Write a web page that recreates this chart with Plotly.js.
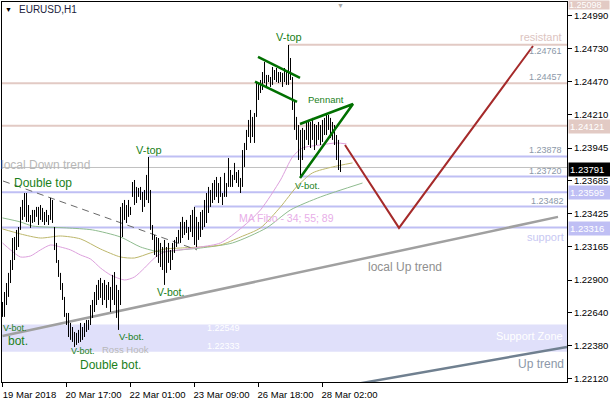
<!DOCTYPE html>
<html><head><meta charset="utf-8">
<script src="https://cdn.plot.ly/plotly-3.0.1.min.js"></script>
<style>html,body{margin:0;padding:0;background:#fff;}#chart{width:610px;height:400px;}</style>
</head><body><div id="chart"></div>
<script>
// ---- data (EURUSD H1, bar index -> high/low) ----
const highs = [1.22727,1.22806,1.22877,1.22957,1.23059,1.23233,1.23241,1.23297,1.23320,1.23479,
1.23534,1.23589,1.23589,1.23494,1.23415,1.23455,1.23455,1.23479,1.23479,1.23494,
1.23471,1.23439,1.23455,1.23415,1.23550,1.23534,1.23320,1.23194,1.23059,1.22957,
1.22877,1.22767,1.22640,1.22640,1.22561,1.22529,1.22490,1.22482,1.22506,1.22561,
1.22529,1.22561,1.22585,1.22585,1.22703,1.22743,1.22806,1.22862,1.22901,1.22917,
1.22877,1.22901,1.22862,1.22885,1.22846,1.22941,1.22964,1.22862,1.22822,1.23479,
1.23510,1.23534,1.23494,1.23534,1.23479,1.23676,1.23692,1.23637,1.23629,1.23637,
1.23597,1.23613,1.23732,1.23874,1.23613,1.23336,1.23257,1.23241,1.23233,1.23194,
1.23162,1.23218,1.23162,1.23194,1.23138,1.23194,1.23218,1.23241,1.23297,1.23360,
1.23400,1.23360,1.23376,1.23320,1.23415,1.23455,1.23479,1.23400,1.23360,1.23439,
1.23455,1.23534,1.23589,1.23637,1.23613,1.23668,1.23692,1.23716,1.23668,1.23716,
1.23589,1.23748,1.23668,1.23866,1.23771,1.23732,1.23827,1.23755,1.23771,1.23708,
1.23929,1.23985,1.24088,1.24167,1.24246,1.24191,1.24222,1.24467,1.24459,1.24483,
1.24546,1.24626,1.24523,1.24523,1.24507,1.24586,1.24562,1.24578,1.24546,1.24546,
1.24539,1.24578,1.24562,1.24760,1.24657,1.24507,1.24325,1.24191,1.24127,1.24088,
1.24104,1.24088,1.24151,1.24167,1.24151,1.24183,1.24135,1.24127,1.24151,1.24127,
1.24167,1.24183,1.24206,1.24206,1.24183,1.24151,1.24127,1.24048,1.24009,1.23850];
const lows = [1.22609,1.22609,1.22703,1.22767,1.22877,1.22980,1.23059,1.23138,1.23162,1.23297,
1.23376,1.23400,1.23360,1.23360,1.23313,1.23352,1.23360,1.23400,1.23336,1.23376,
1.23360,1.23336,1.23360,1.23336,1.23376,1.23352,1.23138,1.23036,1.22925,1.22822,
1.22743,1.22609,1.22545,1.22450,1.22427,1.22411,1.22371,1.22387,1.22403,1.22411,
1.22427,1.22450,1.22490,1.22506,1.22545,1.22601,1.22648,1.22703,1.22743,1.22759,
1.22703,1.22743,1.22680,1.22743,1.22648,1.22743,1.22703,1.22601,1.22506,1.22703,
1.23241,1.23376,1.23352,1.23400,1.23415,1.23558,1.23494,1.23510,1.23558,1.23534,
1.23439,1.23479,1.23534,1.23510,1.23297,1.23218,1.23099,1.23083,1.23036,1.23004,
1.22980,1.22862,1.22957,1.23036,1.22980,1.23059,1.23115,1.23162,1.23194,1.23194,
1.23233,1.23257,1.23273,1.23218,1.23281,1.23241,1.23178,1.23162,1.23218,1.23241,
1.23297,1.23320,1.23352,1.23431,1.23479,1.23510,1.23534,1.23558,1.23510,1.23558,
1.23494,1.23558,1.23558,1.23637,1.23637,1.23637,1.23692,1.23668,1.23637,1.23589,
1.23637,1.23795,1.23929,1.24032,1.23985,1.24032,1.23985,1.24191,1.24325,1.24380,
1.24404,1.24459,1.24428,1.24467,1.24428,1.24444,1.24483,1.24467,1.24459,1.24467,
1.24428,1.24467,1.24444,1.24444,1.24483,1.24246,1.24088,1.24009,1.23850,1.23716,
1.23850,1.23929,1.24009,1.23969,1.23945,1.24009,1.23929,1.23969,1.24009,1.23969,
1.23993,1.24048,1.24048,1.24088,1.24024,1.24009,1.23969,1.23850,1.23771,1.23755];

// moving averages (MA Fibo 34 / 55 / 89), read at sample bars
const ma34Bars = [0,4,9,14,19,24,29,34,39,44,49,54,61,66,71,76,81,89,99,109,120,129,139,145,150,159,167,172];
const ma34 = [1.23194,1.23139,1.23083,1.23091,1.23139,1.23178,1.23162,1.23139,1.23099,1.23067,1.22996,1.22941,1.22901,1.22925,1.22996,1.23075,1.23123,1.23139,1.23162,1.23194,1.23320,1.23455,1.23692,1.23874,1.23945,1.23969,1.23985,1.23977];
const ma55Bars = [0,9,19,29,39,49,59,66,74,81,89,99,109,119,129,139,147,155,165,175];
const ma55 = [1.23305,1.23265,1.23233,1.23249,1.23226,1.23146,1.23083,1.23075,1.23115,1.23146,1.23154,1.23162,1.23178,1.23241,1.23313,1.23479,1.23637,1.23748,1.23795,1.23827];
const ma89Bars = [0,9,15,32,45,59,69,79,89,99,115,132,144,159,180];
const ma89 = [1.23392,1.23360,1.23328,1.23313,1.23297,1.23241,1.23162,1.23123,1.23139,1.23154,1.23194,1.23313,1.23455,1.23558,1.23668];

// axis ticks
const xTickBars = [0,32,64,96,128,160];
const xTickLabels = ["19 Mar 2018","20 Mar 17:00","22 Mar 01:00","23 Mar 09:00","26 Mar 18:00","28 Mar 02:00"];
const yTicks = [1.22120,1.22380,1.22640,1.22900,1.23165,1.23425,1.23685,1.23945,1.24210,1.24470,1.24730,1.24990];

// horizontal levels
const roseLevels = [1.24761,1.24457,1.24121];
const roseFrom = [143,null,null];
const blueLevels = [1.23878,1.23720,1.23595,1.23482,1.23316];
const blueFrom = [73,149,null,96,null];
const bidPrice = 1.23791;
const zoneTop = 1.22549, zoneBottom = 1.22333;

// drawn trend / pattern lines (bar index, price)
const upLocalBars = [0,277.75], upLocalPrices = [1.22458,1.23400];
const upMainBars = [170,282.25], upMainPrices = [1.22059,1.22371];
const downLocalBars = [0.25,97.25], downLocalPrices = [1.23684,1.23139];
const flagUpBars = [127.75,148.75], flagUpPrices = [1.24665,1.24499];
const flagLowBars = [126.25,147.25], flagLowPrices = [1.24470,1.24309];
const pennantBars = [148.75,175.25,148.75], pennantPrices = [1.24135,1.24293,1.23708];
const projBars = [171.25,198.25,265.25], projPrices = [1.23969,1.23313,1.24752];

// ---- build ----
const XMIN=-0.25, XMAX=282.25, YMIN=1.22094, YMAX=1.25100;
const FONT="Liberation Sans, Arial, sans-serif";
const bx=[], by=[];
for(let i=0;i<highs.length;i++){bx.push(i,i,null);by.push(lows[i],highs[i],null);}

const traces=[
 {x:ma89Bars,y:ma89,mode:'lines',line:{color:'#8fbc8f',width:1,shape:'spline',smoothing:0.7}},
 {x:ma55Bars,y:ma55,mode:'lines',line:{color:'#bdb76b',width:1,shape:'spline',smoothing:0.7}},
 {x:ma34Bars,y:ma34,mode:'lines',line:{color:'#dda0dd',width:1,shape:'spline',smoothing:0.7}},
 {x:upLocalBars,y:upLocalPrices,mode:'lines',line:{color:'#a0a0a0',width:2.5}},
 {x:upMainBars,y:upMainPrices,mode:'lines',line:{color:'#708090',width:2.5}},
 {x:downLocalBars,y:downLocalPrices,mode:'lines',line:{color:'#696969',width:1,dash:'7px,5px'}},
 {x:bx,y:by,mode:'lines',line:{color:'#000',width:1},connectgaps:false},
 {x:flagUpBars,y:flagUpPrices,mode:'lines',line:{color:'#007000',width:2.5}},
 {x:flagLowBars,y:flagLowPrices,mode:'lines',line:{color:'#007000',width:2.5}},
 {x:pennantBars,y:pennantPrices,mode:'lines',line:{color:'#007000',width:2.5}},
 {x:projBars,y:projPrices,mode:'lines',line:{color:'#a52a2a',width:2}}
];

const shapes=[];
shapes.push({type:'rect',xref:'paper',yref:'y',x0:0,x1:1,y0:zoneBottom,y1:zoneTop,fillcolor:'#e0e0fa',line:{width:0},layer:'below'});
roseLevels.forEach((v,k)=>shapes.push({type:'line',xref:'x',yref:'y',x0:roseFrom[k]===null?XMIN:roseFrom[k],x1:XMAX,y0:v,y1:v,line:{color:'#e2cac4',width:2},layer:'below'}));
blueLevels.forEach((v,k)=>shapes.push({type:'line',xref:'x',yref:'y',x0:blueFrom[k]===null?XMIN:blueFrom[k],x1:XMAX,y0:v,y1:v,line:{color:'#bfbff4',width:2},layer:'below'}));
shapes.push({type:'line',xref:'paper',yref:'y',x0:0,x1:1,y0:bidPrice,y1:bidPrice,line:{color:'#c0c0c0',width:1},layer:'below'});

// text helpers (pixel positions inside the 610x400 picture)
function P(xp,yp){return {x:(xp-2)/565,y:(382-yp)/380};}
function T(text,xp,yp,size,color,anchor){const p=P(xp,yp);return {text:text,x:p.x,y:p.y,xref:'paper',yref:'paper',xanchor:anchor||'center',yanchor:'middle',showarrow:false,font:{family:FONT,size:size,color:color}};}
const G='#1a7f1a';
const ann=[
 T('\u25BC',8,10,7,'#000','center'),
 T('EURUSD,H1',17,10,10,'#1c1c3c','left'),
 T('\u25BC',340,5,7,'#a8a8a8','center'),
 T('V-top',148.5,150,11,G),
 T('V-top',288.5,37,11,G),
 T('Pennant',326,99,9.5,G),
 T('V-bot.',307,186,9.5,G),
 T('Double top',42.5,183,12,G),
 T('local Down trend',92,165,12,'#b8b8b8','right'),
 T('V-bot.',1,328,9,G,'left'),
 T('bot.',6,341,12,G,'left'),
 T('V-bot.',83,351,9,G),
 T('Double bot.',110.5,364.5,12,G),
 T('V-bot.',131,336,9.5,G),
 T('Ross Hook',125,349,9.5,'#b8b8b8'),
 T('V-bot.',170,292,10.5,G),
 T('MA Fibo - 34; 55; 89',286.5,218,10.5,'#e8aee8'),
 T('local Up trend',366,267,12,'#8f8f8f','left'),
 T('support',566,237,11,'#c8c8f2','right'),
 T('resistant',564,37,11,'#dcc4bf','right'),
 T('1.24761',564,51,9,'#8c98a8','right'),
 T('1.24457',564,77,9,'#8c98a8','right'),
 T('1.23878',564,150,9,'#8c98a8','right'),
 T('1.23720',564,171,9,'#8c98a8','right'),
 T('1.23482',566,201,9,'#8c98a8','right'),
 T('1.22549',205,328,9,'#ffffff','left'),
 T('1.22333',205,346,9,'#ffffff','left'),
 T('Support Zone',565,336,11,'#ffffff','right'),
 T('Up trend',566,364,12,'#8c98a8','right')
];
// price boxes on the axis
function B(text,yp,bg,h){const p=P(568,yp);const a={text:text,x:p.x,y:p.y,xref:'paper',yref:'paper',xanchor:'left',yanchor:'middle',showarrow:false,bgcolor:bg,borderpad:1,width:40,align:'left',font:{family:FONT,size:9.5,color:'#fff'}};if(h){a.height=h;a.borderpad=0;a.font.size=9;}return a;}
ann.push(B('1.25098',5,'#e2cac4',8));
ann.push(B('1.24121',126,'#e2cac4'));
ann.push(B('1.23791',169,'#000000'));
ann.push(B('1.23595',192,'#bfbff4'));
ann.push(B('1.23316',228,'#bfbff4'));

const layout={
 width:610,height:400,margin:{l:2,r:43,t:2,b:18,pad:0},
 paper_bgcolor:'#fff',plot_bgcolor:'#fff',showlegend:false,
 font:{family:FONT,size:9.5,color:'#000'},
 xaxis:{range:[XMIN,XMAX],tickmode:'array',tickvals:xTickBars,ticktext:xTickLabels,ticks:'outside',ticklen:4,tickcolor:'#000',
   showline:true,linecolor:'#000',linewidth:1,mirror:true,showgrid:false,zeroline:false,ticklabelshift:27,tickfont:{size:9.5,color:'#000'},fixedrange:true},
 yaxis:{range:[YMIN,YMAX],side:'right',tickmode:'array',tickvals:yTicks,ticktext:yTicks.map(v=>v.toFixed(5)),ticks:'outside',ticklen:4,tickcolor:'#000',
   showline:true,linecolor:'#000',linewidth:1,mirror:true,showgrid:false,zeroline:false,tickfont:{size:9.5,color:'#000'},fixedrange:true},
 shapes:shapes,annotations:ann
};
Plotly.newPlot('chart',traces,layout,{staticPlot:true,displayModeBar:false});
</script></body></html>
